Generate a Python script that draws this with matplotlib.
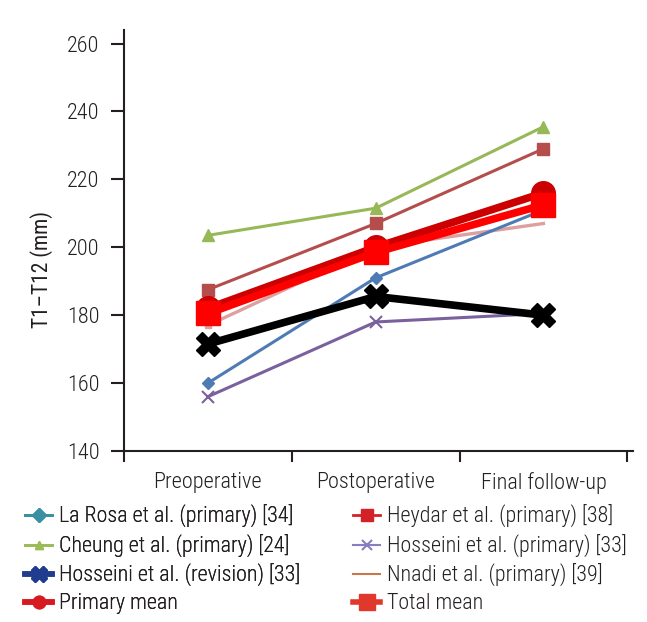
import matplotlib
matplotlib.use("Agg")
import matplotlib.pyplot as plt
from matplotlib.lines import Line2D
from matplotlib import font_manager as fm
import numpy as np

categories = ["Preoperative", "Postoperative", "Final follow-up"]
la_rosa = [160, 191, 211]
heydar = [187.5, 207, 229]
cheung = [203.5, 211.5, 235.5]
hosseini_primary = [156, 178, 180.5]
hosseini_revision = [171.5, 185.5, 180]
nnadi = [177, 200, 207]
primary_mean = [182, 200, 216]
total_mean = [180.5, 198.5, 212.5]

labels = ["La Rosa et al. (primary) [34]", "Heydar et al. (primary) [38]",
          "Cheung et al. (primary) [24]", "Hosseini et al. (primary) [33]",
          "Hosseini et al. (revision) [33]", "Nnadi et al. (primary) [39]",
          "Primary mean", "Total mean"]

installed = set(f.name for f in fm.fontManager.ttflist)
prefs = ['Roboto Condensed', 'Liberation Sans Narrow', 'Archivo Narrow', 'PT Sans Narrow',
         'Open Sans Condensed', 'Fira Sans Condensed', 'Roboto']
fams = [p for p in prefs if p in installed] + ['DejaVu Sans']
plt.rcParams['font.family'] = fams[:1] + ['DejaVu Sans']
plt.rcParams['font.weight'] = 'light'

TXT = "#231f20"

fig = plt.figure(figsize=(6.47, 6.22), dpi=100)
ax = fig.add_axes([0.1917, 0.2749, 0.787, 0.677])

x = np.arange(len(categories)) + 0.5

ax.plot(x, nnadi, color="#DDA0A0", lw=2.4, marker="s", ms=5, markevery=[0], zorder=2)
ax.plot(x, la_rosa, color="#4E7BB3", lw=2.2, marker="D", ms=6, zorder=3)
ax.plot(x, hosseini_primary, color="#7A619E", lw=2.2, marker="x", ms=8, mew=1.5, zorder=3)
ax.plot(x, heydar, color="#B44D4B", lw=2.2, marker="s", ms=8, zorder=3)
ax.plot(x, cheung, color="#97B856", lw=2.2, marker="^", ms=9, zorder=3)
ax.plot(x, hosseini_revision, color="black", lw=5.5, marker="X", ms=17, zorder=4)
ax.plot(x, primary_mean, color="#CC0000", lw=5.5, marker="o", ms=17, zorder=5)
ax.plot(x, total_mean, color="#FF0000", lw=5.5, marker="s", ms=17, zorder=6)

ax.set_xlim(0, 3.035)
ax.set_ylim(140, 264)
ax.set_yticks(np.arange(140, 261, 20))
ax.set_xticks([0, 1, 2, 3])
ax.set_xticklabels([])
ax.set_xticks(x, minor=True)
ax.set_xticklabels(categories, minor=True)
ax.tick_params(axis="x", which="minor", length=0, pad=15, labelsize=16, colors=TXT)
ax.tick_params(axis="x", which="major", length=8, width=1.5, direction="out", color=TXT)
ax.tick_params(axis="y", length=9.5, width=1.5, direction="out", labelsize=16, pad=8, colors=TXT)
for s in ["top", "right"]:
    ax.spines[s].set_visible(False)
for s in ["left", "bottom"]:
    ax.spines[s].set_linewidth(1.5)
    ax.spines[s].set_color(TXT)

ax.set_ylabel("T1\u2013T12 (mm)", fontsize=15.5, color=TXT)
ax.yaxis.set_label_coords(-0.14, 0.432)

left_handles = [
    Line2D([], [], color="#3A8FA3", lw=2, marker="D", ms=7),
    Line2D([], [], color="#9BBB59", lw=2, marker="^", ms=6),
    Line2D([], [], color="#1F3C8F", lw=4, marker="X", ms=12),
    Line2D([], [], color="#D71920", lw=4, marker="o", ms=9),
]
right_handles = [
    Line2D([], [], color="#D42027", lw=2, marker="s", ms=8),
    Line2D([], [], color="#8A7CC0", lw=1.5, marker="x", ms=7, mew=1.5),
    Line2D([], [], color="#C8774A", lw=1.5),
    Line2D([], [], color="#E0382D", lw=4, marker="s", ms=11),
]
common = dict(loc="upper left", frameon=False, fontsize=15.8, handlelength=1.25,
              handletextpad=0.3, labelspacing=0.29, borderpad=0, borderaxespad=0,
              labelcolor=TXT)
leg1 = fig.legend(left_handles, [labels[0], labels[2], labels[4], labels[6]],
                  bbox_to_anchor=(0.0386, 0.188), **common)
fig.add_artist(leg1)
fig.legend(right_handles, [labels[1], labels[3], labels[5], labels[7]],
           bbox_to_anchor=(0.5456, 0.188), **common)

fig.savefig("out.png", dpi=100)
